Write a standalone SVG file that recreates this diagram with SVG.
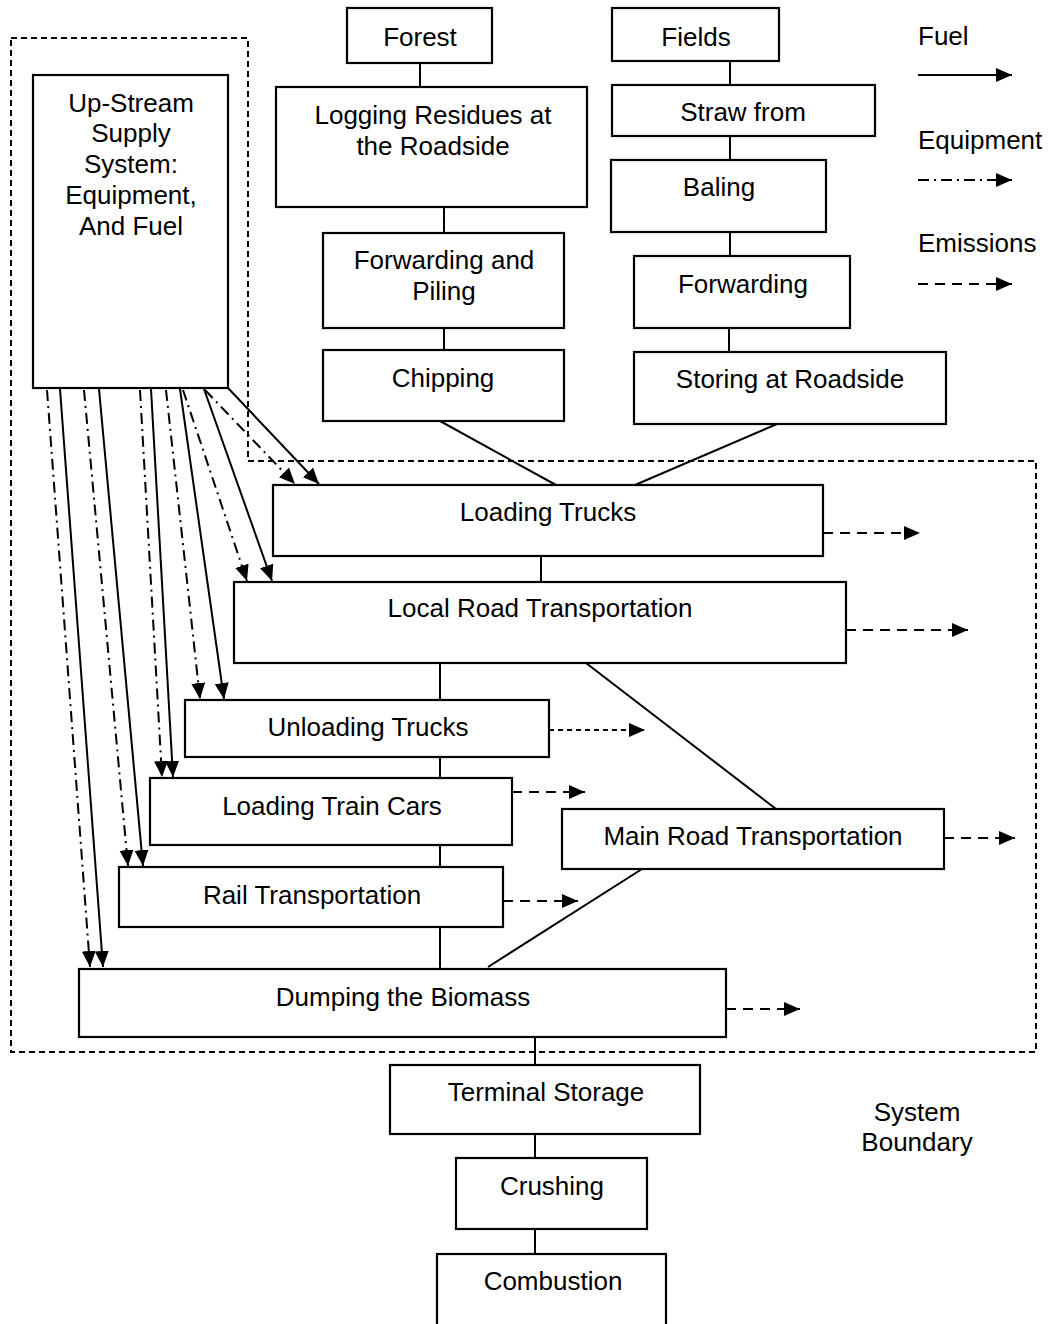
<svg xmlns="http://www.w3.org/2000/svg" width="1050" height="1324" viewBox="0 0 1050 1324">
<style>
.box{fill:#fff;stroke:#000;stroke-width:2.2}
.t{font-family:"Liberation Sans",Arial,sans-serif;font-size:26px;fill:#000;text-anchor:middle}
.tl{font-family:"Liberation Sans",Arial,sans-serif;font-size:26px;fill:#000}
.ln{stroke:#000;stroke-width:2;fill:none}
.fuel{stroke:#000;stroke-width:2;fill:none;marker-end:url(#ah)}
.eq{stroke:#000;stroke-width:2;fill:none;stroke-dasharray:11 5 2 5;marker-end:url(#ah)}
.em{stroke:#000;stroke-width:2.2;fill:none;stroke-dasharray:10 7;marker-end:url(#ah)}
.emf{stroke:#000;stroke-width:2;fill:none;stroke-dasharray:5 4;marker-end:url(#ah)}
.bnd{stroke:#000;stroke-width:2;fill:none;stroke-dasharray:6 4}
</style>
<defs>
<marker id="ah" markerUnits="userSpaceOnUse" markerWidth="17" markerHeight="15" refX="16" refY="7" orient="auto">
<path d="M0,0 L16,7 L0,14 Z" fill="#000"/>
</marker>
</defs>
<rect width="1050" height="1324" fill="#fff"/>

<g id="boundary">
<path class="bnd" d="M11,38 H248 V461 H1036 V1052 H11 Z"/>
</g>

<g id="connectors">
<line class="ln" x1="420" y1="63" x2="420" y2="87"/>
<line class="ln" x1="444" y1="207" x2="444" y2="233"/>
<line class="ln" x1="444" y1="328" x2="444" y2="350"/>
<line class="ln" x1="440" y1="421" x2="556" y2="485"/>
<line class="ln" x1="777" y1="424" x2="635" y2="485"/>
<line class="ln" x1="730" y1="61" x2="730" y2="85"/>
<line class="ln" x1="730" y1="136" x2="730" y2="160"/>
<line class="ln" x1="730" y1="232" x2="730" y2="256"/>
<line class="ln" x1="729" y1="328" x2="729" y2="352"/>
<line class="ln" x1="541" y1="556" x2="541" y2="582"/>
<line class="ln" x1="440" y1="663" x2="440" y2="700"/>
<line class="ln" x1="440" y1="757" x2="440" y2="778"/>
<line class="ln" x1="440" y1="845" x2="440" y2="867"/>
<line class="ln" x1="440" y1="927" x2="440" y2="969"/>
<line class="ln" x1="586" y1="663" x2="776" y2="809"/>
<line class="ln" x1="642" y1="869" x2="488" y2="967"/>
<line class="ln" x1="535" y1="1037" x2="535" y2="1065"/>
<line class="ln" x1="535" y1="1134" x2="535" y2="1158"/>
<line class="ln" x1="535" y1="1229" x2="535" y2="1254"/>

<line class="eq" x1="47" y1="390" x2="90" y2="967"/>
<line class="fuel" x1="60" y1="389" x2="103" y2="967"/>
<line class="eq" x1="84" y1="390" x2="128" y2="866"/>
<line class="fuel" x1="99" y1="389" x2="143" y2="866"/>
<line class="eq" x1="140" y1="390" x2="162" y2="777"/>
<line class="fuel" x1="151" y1="389" x2="173" y2="777"/>
<line class="eq" x1="166" y1="390" x2="200" y2="699"/>
<line class="fuel" x1="180" y1="389" x2="224" y2="699"/>
<line class="eq" x1="183" y1="390" x2="247" y2="581"/>
<line class="fuel" x1="204" y1="389" x2="272" y2="581"/>
<line class="eq" x1="205" y1="390" x2="295" y2="484"/>
<line class="fuel" x1="228" y1="388" x2="319" y2="484"/>

<line class="em" x1="823" y1="533" x2="920" y2="533"/>
<line class="em" x1="846" y1="630" x2="968" y2="630"/>
<line class="emf" x1="549" y1="730" x2="645" y2="730"/>
<line class="em" x1="512" y1="792" x2="585" y2="792"/>
<line class="em" x1="944" y1="838" x2="1015" y2="838"/>
<line class="em" x1="503" y1="901" x2="578" y2="901"/>
<line class="em" x1="726" y1="1009" x2="800" y2="1009"/>
</g>

<g id="upstream"><rect class="box" x="33" y="75" width="195" height="313"/>
<text class="t" x="131" y="112">Up-Stream</text><text class="t" x="131" y="142">Supply</text><text class="t" x="131" y="173">System:</text><text class="t" x="131" y="204">Equipment,</text><text class="t" x="131" y="235">And Fuel</text></g>
<g id="forest"><rect class="box" x="347" y="8" width="145" height="55"/><text class="t" x="420" y="46">Forest</text></g>
<g id="fields"><rect class="box" x="612" y="8" width="167" height="53"/><text class="t" x="696" y="46">Fields</text></g>
<g id="logging"><rect class="box" x="276" y="87" width="311" height="120"/><text class="t" x="433" y="124">Logging Residues at</text><text class="t" x="433" y="155">the Roadside</text></g>
<g id="straw"><rect class="box" x="612" y="85" width="263" height="51"/><text class="t" x="743" y="121">Straw from</text></g>
<g id="baling"><rect class="box" x="611" y="160" width="215" height="72"/><text class="t" x="719" y="196">Baling</text></g>
<g id="forwarding-piling"><rect class="box" x="323" y="233" width="241" height="95"/><text class="t" x="444" y="269">Forwarding and</text><text class="t" x="444" y="300">Piling</text></g>
<g id="forwarding"><rect class="box" x="634" y="256" width="216" height="72"/><text class="t" x="743" y="293">Forwarding</text></g>
<g id="chipping"><rect class="box" x="323" y="350" width="241" height="71"/><text class="t" x="443" y="387">Chipping</text></g>
<g id="storing"><rect class="box" x="634" y="352" width="312" height="72"/><text class="t" x="790" y="388">Storing at Roadside</text></g>
<g id="loading-trucks"><rect class="box" x="273" y="485" width="550" height="71"/><text class="t" x="548" y="521">Loading Trucks</text></g>
<g id="local-road"><rect class="box" x="234" y="582" width="612" height="81"/><text class="t" x="540" y="617">Local Road Transportation</text></g>
<g id="unloading-trucks"><rect class="box" x="185" y="700" width="364" height="57"/><text class="t" x="368" y="736">Unloading Trucks</text></g>
<g id="loading-train"><rect class="box" x="150" y="778" width="362" height="67"/><text class="t" x="332" y="815">Loading Train Cars</text></g>
<g id="main-road"><rect class="box" x="562" y="809" width="382" height="60"/><text class="t" x="753" y="845">Main Road Transportation</text></g>
<g id="rail"><rect class="box" x="119" y="867" width="384" height="60"/><text class="t" x="312" y="904">Rail Transportation</text></g>
<g id="dumping"><rect class="box" x="79" y="969" width="647" height="68"/><text class="t" x="403" y="1006">Dumping the Biomass</text></g>
<g id="terminal"><rect class="box" x="390" y="1065" width="310" height="69"/><text class="t" x="546" y="1101">Terminal Storage</text></g>
<g id="crushing"><rect class="box" x="456" y="1158" width="191" height="71"/><text class="t" x="552" y="1195">Crushing</text></g>
<g id="combustion"><rect class="box" x="437" y="1254" width="229" height="80"/><text class="t" x="553" y="1290">Combustion</text></g>

<g id="boundary-label"><text class="t" x="917" y="1121">System</text><text class="t" x="917" y="1151">Boundary</text></g>

<g id="legend">
<text class="tl" x="918" y="45">Fuel</text>
<line class="fuel" x1="918" y1="75" x2="1012" y2="75"/>
<text class="tl" x="918" y="149">Equipment</text>
<line class="eq" x1="918" y1="180" x2="1012" y2="180"/>
<text class="tl" x="918" y="252">Emissions</text>
<line class="em" x1="918" y1="284" x2="1012" y2="284"/>
</g>
</svg>
